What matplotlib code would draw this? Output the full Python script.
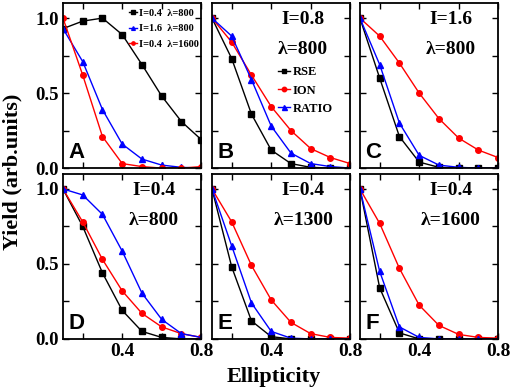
import matplotlib
matplotlib.use("Agg")
import matplotlib.pyplot as plt
from matplotlib.ticker import FixedLocator, FixedFormatter

plt.rcParams['font.family'] = ['Liberation Serif', 'DejaVu Serif']
plt.rcParams['font.weight'] = 'bold'

ellip = [0.1, 0.2, 0.3, 0.4, 0.5, 0.6, 0.7, 0.8]

# panel A: RSE of three laser conditions
a_i04_800 = [0.93, 0.98, 1.00, 0.89, 0.69, 0.48, 0.31, 0.19]
a_i16_800 = [0.93, 0.71, 0.39, 0.16, 0.06, 0.02, 0.005, 0.0]
a_i04_1600 = [1.00, 0.62, 0.21, 0.03, 0.01, 0.0, 0.0, 0.01]

# panels B-F: RSE, ION, RATIO
rse = {
    'B': [1.0, 0.73, 0.36, 0.12, 0.03, 0.005, 0.0, 0.0],
    'C': [1.0, 0.60, 0.21, 0.04, 0.005, 0.0, 0.0, 0.0],
    'D': [1.0, 0.75, 0.44, 0.19, 0.05, 0.01, 0.0, 0.0],
    'E': [1.0, 0.48, 0.12, 0.015, 0.0, 0.0, 0.0, 0.0],
    'F': [1.0, 0.34, 0.04, 0.0, 0.0, 0.0, 0.0, 0.0],
}
ion = {
    'B': [1.0, 0.84, 0.62, 0.41, 0.25, 0.13, 0.07, 0.03],
    'C': [1.0, 0.88, 0.70, 0.50, 0.33, 0.20, 0.12, 0.07],
    'D': [1.0, 0.78, 0.53, 0.32, 0.17, 0.08, 0.035, 0.01],
    'E': [1.0, 0.78, 0.49, 0.26, 0.11, 0.035, 0.01, 0.005],
    'F': [1.0, 0.77, 0.47, 0.225, 0.09, 0.03, 0.01, 0.005],
}
ratio = {
    'B': [1.0, 0.88, 0.59, 0.28, 0.10, 0.03, 0.01, 0.0],
    'C': [1.0, 0.69, 0.30, 0.085, 0.02, 0.005, 0.0, 0.0],
    'D': [1.0, 0.96, 0.83, 0.585, 0.305, 0.13, 0.035, 0.01],
    'E': [1.0, 0.62, 0.24, 0.05, 0.005, 0.0, 0.0, 0.0],
    'F': [1.0, 0.45, 0.08, 0.01, 0.0, 0.0, 0.0, 0.0],
}
conditions = {
    'B': ('I=0.8', '\u03bb=800'),
    'C': ('I=1.6', '\u03bb=800'),
    'D': ('I=0.4', '\u03bb=800'),
    'E': ('I=0.4', '\u03bb=1300'),
    'F': ('I=0.4', '\u03bb=1600'),
}

fig = plt.figure(figsize=(5.12, 3.9), dpi=100)

lefts = [0.123, 0.414, 0.703]
width = 0.27
top_b, bot_b = 0.569, 0.131
height = 0.423
positions = {
    'A': [lefts[0], top_b, width, height],
    'B': [lefts[1], top_b, width, height],
    'C': [lefts[2], top_b, width, height],
    'D': [lefts[0], bot_b, width, height],
    'E': [lefts[1], bot_b, width, height],
    'F': [lefts[2], bot_b, width, height],
}

axes = {}
for name, pos in positions.items():
    ax = fig.add_axes(pos)
    axes[name] = ax
    ax.set_xlim(0.1, 0.8)
    ax.set_ylim(0, 1.1)
    for s in ax.spines.values():
        s.set_linewidth(1.3)
    ax.tick_params(direction='in', top=True, right=True, length=4, width=1.0, pad=3)
    ax.tick_params(axis='x', labelsize=14)
    ax.tick_params(axis='y', labelsize=13.5)
    ax.xaxis.set_major_locator(FixedLocator([0.2, 0.4, 0.6, 0.8]))
    ax.yaxis.set_major_locator(FixedLocator([0.0, 0.25, 0.5, 0.75, 1.0]))
    if name in ('D', 'E', 'F'):
        ax.xaxis.set_major_formatter(FixedFormatter(['', '0.4', '', '0.8']))
    else:
        ax.xaxis.set_major_formatter(FixedFormatter(['', '', '', '']))
    if name in ('A', 'D'):
        ax.yaxis.set_major_formatter(FixedFormatter(['0.0', '', '0.5', '', '1.0']))
    else:
        ax.yaxis.set_major_formatter(FixedFormatter(['', '', '', '', '']))
    ax.text(0.04, 0.03, name, transform=ax.transAxes, fontsize=16,
            fontweight='bold', family='Liberation Sans', ha='left', va='bottom')

ms = 4
ax = axes['A']
ax.plot(ellip, a_i04_800, color='black', marker='s', ms=ms, lw=1, label='I=0.4  \u03bb=800')
ax.plot(ellip, a_i16_800, color='blue', marker='^', ms=ms + 0.5, lw=1, label='I=1.6  \u03bb=800')
ax.plot(ellip, a_i04_1600, color='red', marker='o', ms=ms, lw=1, label='I=0.4  \u03bb=1600')
ax.legend(loc='upper right', frameon=False, fontsize=7.5, handlelength=0.8,
          handletextpad=0.15, borderaxespad=0.1, labelspacing=0.6, markerscale=0.6,
          bbox_to_anchor=(1.02, 1.0))

for name in ['B', 'C', 'D', 'E', 'F']:
    ax = axes[name]
    ax.plot(ellip, rse[name], color='black', marker='s', ms=ms, lw=1, label='RSE')
    ax.plot(ellip, ion[name], color='red', marker='o', ms=ms, lw=1, label='ION')
    ax.plot(ellip, ratio[name], color='blue', marker='^', ms=ms + 0.5, lw=1, label='RATIO')
    line1, line2 = conditions[name]
    ax.text(0.66, 0.95, line1, transform=ax.transAxes, fontsize=14,
            fontweight='bold', ha='center', va='top')
    ax.text(0.66, 0.77, line2, transform=ax.transAxes, fontsize=14,
            fontweight='bold', ha='center', va='top')

axes['B'].legend(loc='center left', bbox_to_anchor=(0.44, 0.47), frameon=False,
                 fontsize=9, handlelength=1.0, handletextpad=0.2, labelspacing=0.5,
                 markerscale=0.8, borderaxespad=0)

fig.text(0.025, 0.56, 'Yield (arb.units)', rotation=90, fontsize=16,
         fontweight='bold', ha='center', va='center')
fig.text(0.535, 0.033, 'Ellipticity', fontsize=16, fontweight='bold',
         ha='center', va='center')

fig.savefig('out.png', dpi=100)
